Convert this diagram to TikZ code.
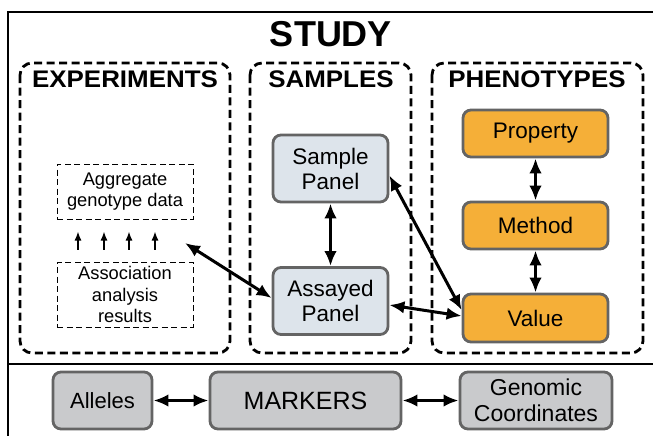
\documentclass[tikz,border=0pt]{standalone}
\usepackage{fontspec}
\setmainfont{Liberation Sans}
\newfontfamily\headfont[FakeStretch=1.08]{Liberation Sans}
\usetikzlibrary{arrows.meta,calc}
\definecolor{panelblue}{HTML}{DDE4EB}
\definecolor{phenoorange}{HTML}{F5AF38}
\definecolor{markergray}{HTML}{C9CACC}
\definecolor{edgegray}{HTML}{646464}
\tikzset{
  entity/.style={draw=edgegray, line width=2.8pt, rounded corners=8pt,
    align=center, inner sep=0pt, font=\fontsize{22.5}{25}\selectfont},
  sampbox/.style={entity, fill=panelblue, minimum width=115pt, minimum height=67pt},
  phenobox/.style={entity, fill=phenoorange, minimum width=145pt, minimum height=47pt},
  markbox/.style={entity, fill=markergray, minimum height=57pt},
  databox/.style={draw, line width=1pt, dash pattern=on 6pt off 3.5pt,
    align=center, inner sep=0pt, minimum width=136pt,
    font=\fontsize{18.3}{21.5}\selectfont},
  groupbox/.style={draw, line width=2.8pt, dash pattern=on 8pt off 4.5pt,
    rounded corners=12pt},
  grouptitle/.style={anchor=base, inner sep=0pt,
    font=\headfont\bfseries\fontsize{24}{26}\selectfont},
  link/.style={line width=3pt, {Latex[length=15pt,width=12.5pt]}-{Latex[length=15pt,width=12.5pt]}},
  uparrow/.style={line width=1.4pt, -{Latex[length=9pt,width=7pt]},
    shorten <=12pt, shorten >=12pt},
}
\begin{document}
\begin{tikzpicture}[x=1pt,y=-1pt]
\useasboundingbox (0,0) rectangle (653,436);

% study frame and the divider above the markers row
\draw[line width=2.8pt] (660,12) -| (8,445);
\draw[line width=2.8pt] (8,364) -- (660,364);
\node[anchor=base, inner sep=0pt, font=\bfseries\fontsize{36}{38}\selectfont] (study) at (331,46.5) {STUDY};

% three dashed groups
\draw[groupbox] (20,63) rectangle (230,353);
\draw[groupbox] (250,63) rectangle (411,353);
\draw[groupbox] (432,63) rectangle (643,353);
\node[grouptitle] (exptitle) at (125,88) {EXPERIMENTS};
\node[grouptitle] (samptitle) at (331,88) {SAMPLES};
\node[grouptitle] (phenotitle) at (537,88) {PHENOTYPES};

% experiments
\node[databox, minimum height=55pt] (agg) at (125,191.5) {Aggregate\\genotype data};
\node[databox, minimum height=65pt] (assoc) at (125,294.5) {Association\\analysis\\results};
\foreach \dx in {-47,-21,4,30}
  \draw[uparrow] ([xshift=\dx pt]assoc.north) -- ([xshift=\dx pt]agg.south);
\coordinate (expin) at (185,243);

% samples
\node[sampbox] (samp) at (330.5,168.5) {Sample\\Panel};
\node[sampbox] (assay) at (330.5,301) {Assayed\\Panel};

% phenotypes
\node[phenobox] (prop) at (535.5,133.5) {Property};
\node[phenobox] (meth) at (535.5,225.5) {Method};
\node[phenobox, minimum height=48pt] (val) at (535.5,318) {Value};

% markers row
\node[markbox, minimum width=99pt, font=\fontsize{22}{25}\selectfont] (alleles) at (102.5,400.5) {Alleles};
\node[markbox, minimum width=191pt, font=\fontsize{25}{28}\selectfont] (markers) at (305.5,400.5) {MARKERS};
\node[markbox, minimum width=152pt, font=\fontsize{23}{26}\selectfont] (genomic) at (536,400.5) {Genomic\\Coordinates};

% links
\draw[link] (samp.south) -- (assay.north);
\draw[link] (prop.south) -- (meth.north);
\draw[link] (meth.south) -- (val.north);
\draw[link] ([yshift=-7pt]samp.east) -- ([yshift=8pt]val.west);
\draw[link] ([yshift=-4pt]assay.east) -- ([yshift=2pt]val.west);
\draw[link] ([yshift=3pt]assay.west) -- (expin);
\draw[link] (alleles) -- (markers);
\draw[link] (markers) -- (genomic);
\end{tikzpicture}
\end{document}
